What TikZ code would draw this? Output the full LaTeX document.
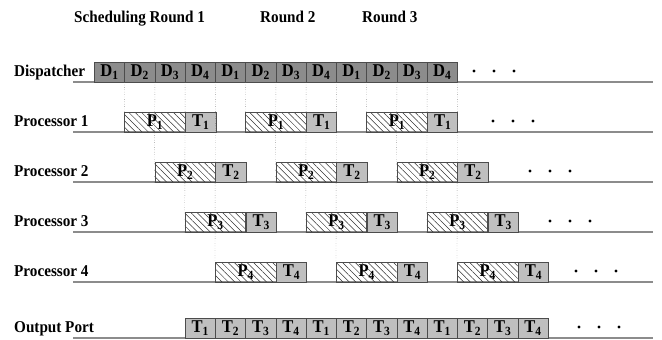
\documentclass[tikz,border=0pt]{standalone}
\usepackage{fontspec}
\setmainfont{Liberation Serif}
\newfontfamily\tallfont{Liberation Serif}[FakeStretch=0.92]
\usetikzlibrary{positioning, patterns.meta}
\newcommand{\slotsub}[1]{\raisebox{-0.4ex}{\fontsize{12.5}{12.5}\selectfont #1}}

\begin{document}
\begin{tikzpicture}[
		x=1pt, y=-1pt,
		font=\tallfont\fontsize{16.5}{18}\selectfont\bfseries,
		% Define styles
		slot/.style={rectangle, draw=black!70, inner sep=0pt, minimum height=20pt, minimum width=30.25pt, anchor=north west, font=\tallfont\fontsize{18}{20}\selectfont\bfseries},
		dispatch/.style={slot, fill=black!45},
		transmit/.style={slot, fill=black!25},
		process/.style={slot, minimum width=60.5pt, pattern={Lines[angle=-45, distance=4.5pt, line width=0.5pt]}, pattern color=black!80},
		rowlabel/.style={anchor=base west, inner sep=0pt},
		timeline/.style={draw=black!45, line width=1.5pt},
		sync/.style={draw=black!65, dotted, thin},
		more/.style={circle, fill=black, inner sep=0pt, minimum size=3.2pt}
		]
		\useasboundingbox (0,0) rectangle (662,340);
		
		% 1. Header
		\node[rowlabel] (round1) at (74,22) {Scheduling Round 1};
		\node[rowlabel] (round2) at (260,22) {Round 2};
		\node[rowlabel] (round3) at (362,22) {Round 3};
		
		% 2. Row labels and time lines
		\node[rowlabel] (l-d) at (14,76) {Dispatcher};
		\foreach \k in {1,...,4}
			\node[rowlabel] (l-\k) at (14,{126+50*(\k-1)}) {Processor \k};
		\node[rowlabel] (l-o) at (14,332) {Output Port};
		\foreach \y in {82,132,182,232,282,338}
			\draw[timeline] (73,\y) -- (653,\y);
		
		% 3. Dispatcher
		\foreach \r in {1,2,3}
			\foreach \i in {1,...,4} {
				\pgfmathsetmacro{\xx}{94+(4*(\r-1)+\i-1)*30.25}
				\node[dispatch] (d-\r-\i) at (\xx,62) {D\slotsub{\i}};
			}
		
		% 4. Processors (process + transmit)
		\foreach \k in {1,...,4}
			\foreach \r in {1,2,3} {
				\pgfmathsetmacro{\xx}{94+(4*(\r-1)+\k)*30.25}
				\pgfmathsetmacro{\yy}{112+50*(\k-1)}
				\node[process] (p-\k-\r) at (\xx,\yy) {P\slotsub{\k}};
				\node[transmit, right=0pt of p-\k-\r] (t-\k-\r) {T\slotsub{\k}};
			}
		
		% 5. Output port
		\foreach \r in {1,2,3}
			\foreach \i in {1,...,4} {
				\pgfmathsetmacro{\xx}{94+(4*(\r-1)+\i+2)*30.25}
				\node[transmit] (o-\r-\i) at (\xx,318) {T\slotsub{\i}};
			}
		
		% Dispatch hand-over to each processor
		\foreach \r in {1,2,3}
			\foreach \k in {1,...,4}
				\draw[sync] (d-\r-\k.south east) -- (p-\k-\r.north west);
		
		% 6. Continuation dots
		\foreach \row/\x/\y in {d/474/71, 1/493/121, 2/530/171, 3/550/221, 4/576/271, o/579/327}
			\foreach \m in {0,1,2}
				\node[more] (dots-\row-\m) at ({\x+20*\m},\y) {};
		
	\end{tikzpicture}
\end{document}
